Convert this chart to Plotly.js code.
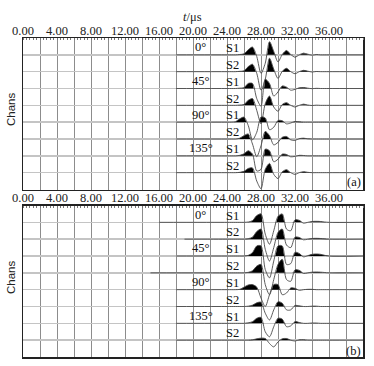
<!DOCTYPE html>
<html><head><meta charset="utf-8">
<script src="https://cdn.plot.ly/plotly-3.0.1.min.js"></script>
<style>html,body{margin:0;padding:0;background:#fff}#chart{width:374px;height:366px}</style>
</head><body><div id="chart"></div>
<script>
// time samples (μs) for the wavelet part of every trace
const times = [24,24.5,25,25.5,26,26.5,27,27.5,28,28.5,29,29.5,30,30.5,31,31.5,32,32.5,33,33.5,34,34.5,35,35.5,36];
const tickValues = [0,4,8,12,16,20,24,28,32,36];
const tickLabels = ['0.00','4.00','8.00','12.00','16.00','20.00','24.00','28.00','32.00','36.00'];
const sourceLabels = ['S1','S2','S1','S2','S1','S2','S1','S2'];
const angleLabels = ['0°','45°','90°','135°'];
const panelLabels = ['(a)','(b)'];
const channelNames = ['Chans','Chans'];
const axisTitle = '<i>t</i>/μs';
// trace start times (μs)
const startA = [18,18,18,18,18,18,18,18];
const startB = [16,19,18,15,18,18,18,18];
// panel (a) amplitudes (channel spacing units)
const a0S1 = [0,0,0,0.02,0.06,0.3,0.46,-0.1,-1.1,-0.5,0.78,0.2,-0.42,0.02,0.26,0.02,-0.14,0,0.1,0.04,-0.02,0.02,0,0,0];
const a0S2 = [0,0,0,0.02,0.05,0.3,0.44,-0.1,-1.1,-0.45,0.8,0.15,-0.4,0.02,0.2,0,-0.12,0,0.08,0.03,-0.02,0.01,0,0,0];
const a45S1 = [0,0,0,0.02,0.05,0.3,0.3,-0.6,-1.05,0.55,0.3,-0.45,-0.2,0.15,0.08,-0.1,-0.05,0.04,0.06,0.02,-0.01,0.01,0,0,0];
const a45S2 = [0,0,0,0.02,0.05,0.3,0.4,-0.3,-1.1,0.1,0.55,-0.1,-0.35,0.05,0.16,0,-0.1,0,0.07,0.02,-0.01,0.01,0,0,0];
const a90S1 = [0,0,0.03,0.2,0.3,-0.2,-1.05,-0.6,0.3,0.25,-0.45,-0.3,0.1,0.08,-0.1,-0.05,0.04,0.02,0,0,0,0,0,0,0];
const a90S2 = [0,0,0,0.05,0.2,0.3,-0.3,-1.05,-0.4,0.45,0.2,-0.35,-0.2,0.1,0.15,-0.05,-0.08,0.02,0.05,0.01,0,0,0,0,0];
const a135S1 = [0,0,0,0.03,0.12,0.3,0.1,-0.9,-0.8,0.4,0.3,-0.35,-0.2,0.1,0.08,-0.06,-0.03,0.03,0.02,0,0,0,0,0,0];
const a135S2 = [0,0,0,0.02,0.08,0.25,0.28,-0.5,-0.95,0.2,0.55,-0.1,-0.35,0.05,0.18,0,-0.1,0,0.06,0.02,0,0,0,0,0];
// panel (b) amplitudes
const b0S1 = [0,0,0,0,0,0.02,0.1,0.4,0.5,-0.7,-1.3,-0.5,0.35,0.5,-0.4,-0.5,0.15,0.12,-0.05,0,0.05,0.06,0.05,0.02,0];
const b0S2 = [0,0,0,0,0,0.03,0.12,0.45,0.6,-0.6,-1.3,-0.5,0.4,0.6,-0.35,-0.5,0.12,0.1,-0.04,0,0.04,0.05,0.04,0.02,0];
const b45S1 = [0,0,0,0,0,0.04,0.2,0.6,0.6,-0.8,-1.3,-0.3,0.6,0.6,-0.5,-0.45,0.22,0.15,-0.05,0.02,0.1,0.12,0.1,0.04,0];
const b45S2 = [0,0,0,0,0,0.03,0.12,0.4,0.5,-0.7,-1.3,-0.4,0.5,0.8,-0.4,-0.5,0.18,0.15,-0.04,0,0.04,0.05,0.04,0.02,0];
const b90S1 = [0,0,0,0.02,0.15,0.28,0.3,0.15,-0.5,-1.0,-0.3,0.3,0.3,-0.3,-0.2,0.1,0.08,-0.04,0,0.02,0.02,0,0,0,0];
const b90S2 = [0,0,0,0,0,0.02,0.08,0.22,0.25,-0.4,-0.8,-0.2,0.28,0.2,-0.2,-0.2,0.06,0.04,0,0,0.02,0.02,0,0,0];
const b135S1 = [0,0,0,0,0,0.03,0.1,0.3,0.35,-0.5,-0.8,-0.2,0.3,0.25,-0.2,-0.15,0.1,0.05,0,0,0.02,0.02,0,0,0];
const b135S2 = [0,0,0,0,0,0,0.02,0.08,0.12,0.1,-0.2,-0.4,-0.1,0.08,0.1,0,-0.05,0.02,0.03,0,0,0,0,0,0];

const panelA = [a0S1,a0S2,a45S1,a45S2,a90S1,a90S2,a135S1,a135S2];
const panelB = [b0S1,b0S2,b45S1,b45S2,b90S1,b90S2,b135S1,b135S2];

const traces = [];
function addPanel(rows, starts, xa, ya){
  rows.forEach((amp, i) => {
    const base = 8 - i; // row 1 at top (y range 0..9)
    const xs = [starts[i]].concat(times).concat([40]);
    const vs = [0].concat(amp).concat([0]);
    // insert zero crossings so positive lobes can be filled cleanly
    const fx = [], fy = [], lx = [], ly = [];
    for (let k = 0; k < xs.length; k++) {
      if (k > 0 && (vs[k-1] > 0) !== (vs[k] > 0) && vs[k-1] !== 0 && vs[k] !== 0) {
        const f = vs[k-1] / (vs[k-1] - vs[k]);
        const xc = xs[k-1] + f * (xs[k] - xs[k-1]);
        fx.push(xc); fy.push(base);
      }
      fx.push(xs[k]); fy.push(base + Math.max(0, vs[k]));
      lx.push(xs[k]); ly.push(base + vs[k]);
    }
    traces.push({x: fx, y: fx.map(() => base), xaxis: xa, yaxis: ya, mode: 'lines',
      line: {width: 0, color: 'rgba(0,0,0,0)'}, hoverinfo: 'skip', showlegend: false});
    traces.push({x: fx, y: fy, xaxis: xa, yaxis: ya, mode: 'lines', fill: 'tonexty',
      fillcolor: '#000', line: {width: 0, shape: 'spline', smoothing: 0.8, color: '#000'},
      hoverinfo: 'skip', showlegend: false});
    traces.push({x: lx, y: ly, xaxis: xa, yaxis: ya, mode: 'lines',
      line: {width: 0.9, shape: 'spline', smoothing: 0.8, color: '#4a4a4a'},
      hoverinfo: 'skip', showlegend: false});
  });
}
addPanel(panelA, startA, 'x', 'y');
addPanel(panelB, startB, 'x2', 'y2');

const gridVals = []; const gridText = [];
for (let v = 0; v <= 38; v += 2) {
  gridVals.push(v);
  const j = tickValues.indexOf(v);
  gridText.push(j >= 0 ? tickLabels[j] : '');
}
const serif = 'Liberation Serif';
function xAxis(anchor){
  return {domain: [23/374, 363/374], anchor: anchor, side: 'top', range: [0, 40],
    tickmode: 'array', tickvals: gridVals, ticktext: gridText, ticks: '',
    ticklabelstandoff: -3,
    showgrid: true, gridcolor: '#8c8c8c', gridwidth: 1, zeroline: false,
    showline: true, linecolor: '#222', linewidth: 1.5, mirror: true,
    tickfont: {family: serif, size: 12.5, color: '#222'},
    minor: {dtick: 0.4, ticks: 'inside', ticklen: 2, tickcolor: '#777', tickwidth: 1, showgrid: false},
    fixedrange: true};
}
function yAxis(anchor, dom){
  return {domain: dom, anchor: anchor, range: [0, 9], tickmode: 'linear', tick0: 0, dtick: 1,
    showgrid: true, gridcolor: '#c4c4c4', gridwidth: 1.5, zeroline: false,
    showticklabels: false, ticks: '', showline: true, linecolor: '#222', linewidth: 1.5, mirror: true,
    fixedrange: true};
}
const annotations = [];
const rowsAxes = [['x','y'],['x2','y2']];
rowsAxes.forEach((ax, p) => {
  sourceLabels.forEach((s, i) => {
    annotations.push({xref: ax[0], yref: ax[1], x: 24.7, y: 8 - i + 0.4, text: s, showarrow: false,
      font: {family: serif, size: 12.5, color: '#111'}, xanchor: 'center', yanchor: 'middle'});
  });
  angleLabels.forEach((a, i) => {
    annotations.push({xref: ax[0], yref: ax[1], x: 20.9, y: 8 - 2*i + 0.45, text: a, showarrow: false,
      font: {family: serif, size: 12.5, color: '#111'}, xanchor: 'center', yanchor: 'middle'});
  });
  annotations.push({xref: ax[0], yref: ax[1], x: 38.9, y: p === 0 ? 0.47 : 0.37, text: panelLabels[p], showarrow: false,
    font: {family: serif, size: 12.5, color: '#111'}, xanchor: 'center', yanchor: 'middle'});
});
annotations.push({xref: 'paper', yref: 'paper', x: 11/374, y: 1 - 110/366, text: channelNames[0], textangle: -90,
  showarrow: false, font: {family: 'Liberation Sans', size: 11.5, color: '#222'}, xanchor: 'center', yanchor: 'middle'});
annotations.push({xref: 'paper', yref: 'paper', x: 11/374, y: 1 - 278/366, text: channelNames[1], textangle: -90,
  showarrow: false, font: {family: 'Liberation Sans', size: 11.5, color: '#222'}, xanchor: 'center', yanchor: 'middle'});
annotations.push({xref: 'paper', yref: 'paper', x: 193/374, y: 1 - 17/366, text: axisTitle,
  showarrow: false, font: {family: serif, size: 12.5, color: '#222'}, xanchor: 'center', yanchor: 'middle'});

const layout = {
  width: 374, height: 366, margin: {l: 0, r: 0, t: 0, b: 0},
  paper_bgcolor: '#fff', plot_bgcolor: '#fff', showlegend: false,
  xaxis: xAxis('y'), yaxis: yAxis('x', [1 - 189.5/366, 1 - 38/366]),
  xaxis2: xAxis('y2'), yaxis2: yAxis('x2', [1 - 357/366, 1 - 205.5/366]),
  annotations: annotations
};
Plotly.newPlot('chart', traces, layout, {staticPlot: true, displayModeBar: false});
</script></body></html>
